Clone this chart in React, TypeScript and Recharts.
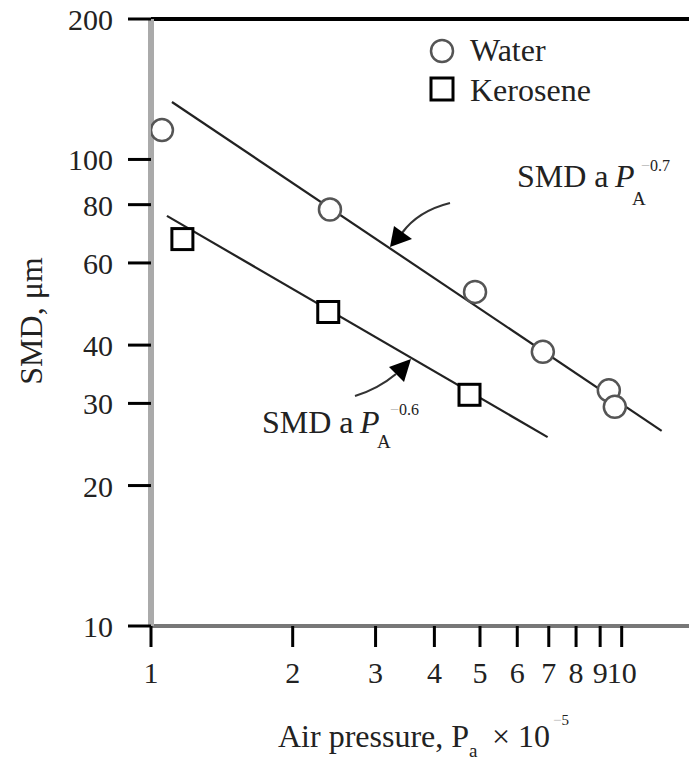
import React from 'react';
import { ComposedChart, Line, Scatter, XAxis, YAxis, ReferenceLine, Customized } from 'recharts';

// Tick values
const xTicks = [1, 2, 3, 4, 5, 6, 7, 8, 9, 10];
const yTicks = [10, 20, 30, 40, 60, 80, 100, 200];

// Measured points
const waterPressure = [1.055, 2.4, 4.88, 6.8, 9.39, 9.67];
const waterSMD = [115.6, 78.1, 52.0, 38.7, 32.0, 29.5];
const kerosenePressure = [1.166, 2.38, 4.75];
const keroseneSMD = [67.5, 47.1, 31.3];

// Fitted power-law lines (end points)
const waterFitPressure = [1.108, 12.16];
const waterFitSMD = [132.8, 26.2];
const keroseneFitPressure = [1.081, 6.96];
const keroseneFitSMD = [75.7, 25.4];

const zip = (xs: number[], ys: number[]) => xs.map((x, i) => ({ x, y: ys[i] }));

const waterData = zip(waterPressure, waterSMD);
const keroseneData = zip(kerosenePressure, keroseneSMD);
const waterFit = zip(waterFitPressure, waterFitSMD);
const keroseneFit = zip(keroseneFitPressure, keroseneFitSMD);

const FONT = '"Liberation Serif", "Times New Roman", serif';
const TXT = '#222';

const CircleShape = (props: any) => {
  const { cx, cy } = props;
  if (cx == null || cy == null) return null;
  return <circle cx={cx} cy={cy} r={11} fill="#fff" stroke="#555" strokeWidth={2.5} />;
};

const SquareShape = (props: any) => {
  const { cx, cy } = props;
  if (cx == null || cy == null) return null;
  return <rect x={cx - 10.5} y={cy - 10.5} width={21} height={21} fill="#fff" stroke="#000" strokeWidth={3} />;
};

const YTick = (props: any) => {
  const { x, y, payload } = props;
  return (
    <text x={x} y={y + 11} textAnchor="end" fontFamily={FONT} fontSize={30} fill={TXT}>
      {payload.value}
    </text>
  );
};

const XTick = (props: any) => {
  const { x, y, payload } = props;
  return (
    <text x={x} y={y + 20} textAnchor="middle" fontFamily={FONT} fontSize={30} fill={TXT}>
      {payload.value}
    </text>
  );
};

const Decorations = () => (
  <g fontFamily={FONT} fill={TXT}>
    {/* Legend */}
    <circle cx={442} cy={51} r={11} fill="#fff" stroke="#555" strokeWidth={2.5} />
    <text x={470} y={61} fontSize={32}>Water</text>
    <rect x={431} y={78} width={22} height={22} fill="#fff" stroke="#000" strokeWidth={3} />
    <text x={470} y={101} fontSize={32}>Kerosene</text>

    {/* Annotation for water line */}
    <text x={517} y={187} fontSize={32}>SMD a</text>
    <text x={615} y={187} fontSize={32} fontStyle="italic">P</text>
    <text x={632} y={205} fontSize={19}>A</text>
    <text x={641} y={171} fontSize={16}>
      <tspan fill="#bbb">−</tspan>0.7
    </text>
    <path d="M450,203 Q418,211 402,233" fill="none" stroke="#333" strokeWidth={2.2} />
    <polygon points="390,247 394,226 412,239" fill="#000" />

    {/* Annotation for kerosene line */}
    <text x={262} y={433} fontSize={32}>SMD a</text>
    <text x={360} y={433} fontSize={32} fontStyle="italic">P</text>
    <text x={377} y={448} fontSize={19}>A</text>
    <text x={390} y={415} fontSize={16}>
      <tspan fill="#bbb">−</tspan>0.6
    </text>
    <path d="M355,396 Q378,389 396,374" fill="none" stroke="#333" strokeWidth={2.2} />
    <polygon points="411,359 389,367 404,382" fill="#000" />

    {/* Axis titles */}
    <text transform="translate(42,321) rotate(-90)" textAnchor="middle" fontSize={32}>
      SMD, μm
    </text>
    <text x={278} y={747} fontSize={32}>Air pressure, P</text>
    <text x={469} y={757} fontSize={19}>a</text>
    <text x={492} y={747} fontSize={32}>× 10</text>
    <text x={553} y={725} fontSize={15}>
      <tspan fill="#bbb">−</tspan>5
    </text>
  </g>
);

export default function App() {
  return (
    <div style={{ position: 'absolute', left: 0, top: 0, width: 689, height: 762, background: '#fff' }}>
      <ComposedChart
        width={689}
        height={762}
        margin={{ top: 19, right: 0, bottom: 0, left: 0 }}
      >
        <XAxis
          type="number"
          dataKey="x"
          scale="log"
          domain={[1, 13.9]}
          allowDataOverflow
          ticks={xTicks}
          interval={0}
          height={136}
          tickSize={21}
          tickMargin={16}
          axisLine={{ stroke: '#777', strokeWidth: 4 }}
          tickLine={{ stroke: '#000', strokeWidth: 3 }}
          tick={<XTick />}
        />
        <YAxis
          type="number"
          dataKey="y"
          scale="log"
          domain={[10, 200]}
          allowDataOverflow
          ticks={yTicks}
          interval={0}
          width={151}
          tickSize={23}
          tickMargin={15}
          axisLine={{ stroke: '#aaa', strokeWidth: 6 }}
          tickLine={{ stroke: '#000', strokeWidth: 3 }}
          tick={<YTick />}
        />
        <ReferenceLine y={200} stroke="#000" strokeWidth={4} />
        <Line
          data={waterFit}
          dataKey="y"
          type="linear"
          stroke="#222"
          strokeWidth={2.2}
          dot={false}
          activeDot={false}
          isAnimationActive={false}
        />
        <Line
          data={keroseneFit}
          dataKey="y"
          type="linear"
          stroke="#222"
          strokeWidth={2.2}
          dot={false}
          activeDot={false}
          isAnimationActive={false}
        />
        <Scatter data={waterData} dataKey="y" shape={<CircleShape />} isAnimationActive={false} />
        <Scatter data={keroseneData} dataKey="y" shape={<SquareShape />} isAnimationActive={false} />
        <Customized component={Decorations} />
      </ComposedChart>
    </div>
  );
}
